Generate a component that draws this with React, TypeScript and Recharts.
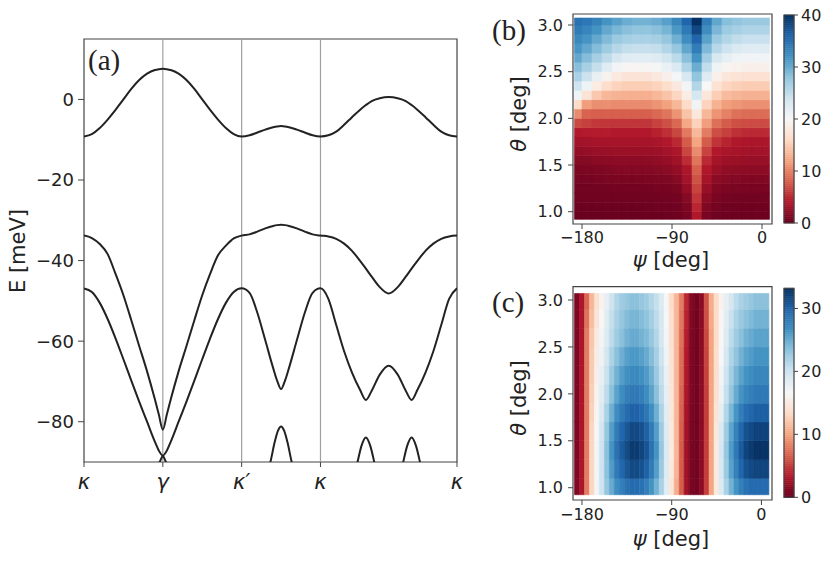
import React from "react";
import {
  ScatterChart,
  Scatter,
  LineChart,
  Line,
  XAxis,
  YAxis,
  ReferenceLine,
  ReferenceArea,
} from "recharts";

const FONT = "'DejaVu Sans', sans-serif";
const SERIF = "'Liberation Serif', 'DejaVu Serif', serif";

// ---- panel (a): bands along kappa-gamma-kappa'-kappa-kappa ----
const K_TICKS = [0, 1, 2, 3, 4.732];
const K_TICK_LABELS = ["κ", "γ", "κ′", "κ", "κ"];
const E_TICKS = [-80, -60, -40, -20, 0];

const K = [
  0, 0.1, 0.2, 0.3, 0.4, 0.5, 0.6, 0.7, 0.8, 0.9, 0.95, 1.0,
  1.05, 1.1, 1.2, 1.3, 1.4, 1.5, 1.6, 1.7, 1.8, 1.9, 2.0,
  2.1, 2.2, 2.3, 2.4, 2.45, 2.5, 2.55, 2.6, 2.7, 2.8, 2.9, 3.0,
  3.1, 3.2, 3.3, 3.4, 3.5, 3.576, 3.65, 3.752, 3.866, 3.98, 4.082, 4.156, 4.232, 4.332, 4.432, 4.532, 4.632, 4.732,
];
const BAND1 = [
  -9.2, -8.6, -7.1, -5.0, -2.6, 0.0, 2.6, 4.8, 6.4, 7.3, 7.5, 7.6,
  7.5, 7.3, 6.4, 4.8, 2.6, 0.0, -2.6, -5.0, -7.1, -8.6, -9.2,
  -8.9, -8.2, -7.5, -6.9, -6.7, -6.6, -6.7, -6.9, -7.5, -8.2, -8.9, -9.2,
  -8.9, -8.0, -6.3, -4.4, -2.6, -1.4, -0.4, 0.3, 0.6, 0.3, -0.4, -1.4, -2.6, -4.4, -6.3, -8.0, -8.9, -9.2,
];
const BAND2 = [
  -33.8, -34.4, -35.9, -38.4, -43.3, -48.6, -54.8, -61.2, -67.5, -74.5, -78.3, -82.0,
  -78.3, -74.5, -67.5, -61.2, -54.8, -48.6, -43.3, -38.7, -36.3, -34.5, -33.8,
  -33.5, -32.8, -32.0, -31.4, -31.2, -31.1, -31.2, -31.4, -32.0, -32.8, -33.5, -33.8,
  -34.0, -34.6, -35.8, -37.6, -40.0, -42.0, -44.0, -46.6, -48.2, -46.6, -44.0, -42.0, -40.0, -37.6, -35.8, -34.6, -34.0, -33.8,
];
const BAND3 = [
  -46.9, -47.8, -50.5, -54.5, -59.3, -64.5, -69.8, -75.0, -80.0, -85.0, -87.2, -88.4,
  -87.2, -85.0, -80.0, -75.0, -69.8, -64.5, -59.3, -54.5, -50.5, -47.8, -46.9,
  -48.0, -53.0, -59.8, -66.7, -69.8, -71.9, -69.8, -66.7, -59.8, -53.0, -48.0, -46.9,
  -49.5, -56.0, -62.5, -67.8, -72.0, -74.6, -72.3, -68.3, -66.1, -68.3, -72.3, -74.6, -72.0, -67.8, -62.5, -56.0, -49.5, -46.9,
];
// lowest band only peeks in above -90 meV; null = below the frame
const K4 = [
  0.93, 0.965, 1.0, 1.035, 1.07, 1.7,
  2.33, 2.365, 2.42, 2.46, 2.5, 2.54, 2.58, 2.635, 2.67, 3.0,
  3.44, 3.47, 3.52, 3.576, 3.632, 3.682, 3.71, 3.866,
  4.022, 4.05, 4.1, 4.156, 4.212, 4.262, 4.29,
];
const BAND4 = [
  -91.2, -89.8, -88.5, -89.8, -91.2, null,
  -92.5, -90.0, -85.0, -82.3, -81.2, -82.3, -85.0, -90.0, -92.5, null,
  -92.5, -90.0, -86.0, -83.9, -86.0, -90.0, -92.5, null,
  -92.5, -90.0, -86.0, -83.9, -86.0, -90.0, -92.5,
];

// ---- panel (b) ----
const PSI_B = [-185, -175, -165, -155, -145, -135, -125, -115, -105, -95, -85, -75, -65, -55, -45, -35, -25, -15, -5, 5];
const THETA_B = [0.95, 1.05, 1.15, 1.25, 1.35, 1.45, 1.55, 1.65, 1.75, 1.85, 1.95, 2.05, 2.15, 2.25, 2.35, 2.45, 2.55, 2.65, 2.75, 2.85, 2.95, 3.05];
// one row per psi column, theta increasing
const VALUES_B = [
  [0.2, 0.3, 0.45, 0.6, 0.8, 1.0, 1.6, 2.3, 3.1, 4.0, 6.7, 10.5, 16.0, 21.0, 24.1, 26.5, 28.5, 30.4, 31.8, 33.0, 34.2, 35.0],
  [0.2, 0.3, 0.45, 0.6, 0.85, 1.1, 1.6, 2.4, 3.2, 4.1, 6.2, 8.2, 11.6, 17.2, 21.0, 24.3, 26.6, 28.6, 30.4, 31.9, 33.3, 34.5],
  [0.2, 0.3, 0.45, 0.65, 0.9, 1.2, 1.8, 2.6, 3.3, 4.2, 5.8, 8.0, 10.7, 14.6, 18.3, 21.6, 24.7, 26.7, 28.7, 30.3, 32.0, 33.5],
  [0.2, 0.3, 0.45, 0.65, 0.95, 1.3, 1.9, 2.6, 3.3, 4.2, 5.7, 8.0, 10.7, 13.4, 16.3, 19.3, 22.5, 25.3, 27.1, 28.8, 30.3, 32.0],
  [0.2, 0.3, 0.45, 0.7, 1.0, 1.5, 2.0, 2.7, 3.3, 4.0, 5.6, 8.0, 10.5, 13.0, 15.5, 18.0, 20.6, 23.5, 25.8, 27.5, 29.2, 31.0],
  [0.2, 0.3, 0.45, 0.7, 1.0, 1.5, 2.0, 2.7, 3.3, 4.0, 5.6, 8.0, 10.5, 12.8, 15.0, 17.3, 19.7, 22.4, 24.8, 26.8, 28.4, 30.0],
  [0.2, 0.3, 0.45, 0.7, 1.0, 1.5, 2.0, 2.7, 3.3, 4.0, 5.6, 8.0, 10.5, 12.8, 15.0, 17.3, 19.7, 22.3, 24.6, 26.5, 28.0, 29.5],
  [0.2, 0.3, 0.45, 0.7, 1.0, 1.5, 2.0, 2.7, 3.3, 4.0, 5.6, 8.0, 10.5, 12.8, 15.0, 17.3, 19.7, 22.3, 24.6, 26.5, 28.0, 29.5],
  [0.2, 0.35, 0.5, 0.75, 1.1, 1.6, 2.2, 2.9, 3.5, 4.5, 6.3, 8.5, 11.0, 13.3, 15.5, 17.9, 20.3, 22.6, 24.9, 26.8, 28.4, 30.0],
  [0.3, 0.4, 0.6, 0.85, 1.2, 1.8, 2.5, 3.2, 3.9, 5.3, 7.1, 9.2, 11.8, 14.2, 16.4, 18.9, 21.4, 23.8, 26.0, 27.7, 29.3, 31.0],
  [0.4, 0.5, 0.7, 1.0, 1.6, 2.3, 3.0, 3.7, 4.9, 6.6, 8.5, 11.0, 13.4, 15.6, 17.9, 20.4, 23.0, 25.4, 27.6, 29.7, 31.5, 33.0],
  [0.8, 1.1, 1.6, 2.4, 3.2, 3.7, 5.1, 6.5, 7.8, 9.5, 12.2, 14.2, 16.2, 18.4, 20.5, 23.4, 26.1, 28.4, 30.5, 32.5, 34.3, 36.0],
  [4.0, 4.8, 5.6, 6.4, 7.2, 8.0, 9.2, 10.5, 12.0, 13.5, 15.3, 17.8, 20.7, 23.6, 26.0, 28.0, 30.0, 32.0, 34.0, 36.0, 38.2, 40.0],
  [0.9, 1.3, 1.9, 2.6, 3.3, 3.9, 5.0, 6.4, 7.8, 9.6, 11.6, 13.4, 15.4, 17.6, 20.0, 22.6, 25.0, 27.0, 29.0, 30.8, 32.5, 34.0],
  [0.5, 0.7, 1.0, 1.4, 2.0, 2.7, 3.3, 4.0, 5.5, 7.0, 8.9, 11.0, 13.0, 15.0, 17.0, 19.0, 21.0, 23.3, 25.6, 27.4, 29.1, 30.5],
  [0.3, 0.5, 0.7, 1.1, 1.6, 2.2, 2.9, 3.5, 4.6, 6.2, 7.8, 9.9, 11.6, 13.6, 15.6, 17.6, 19.6, 21.8, 24.1, 25.9, 27.3, 28.5],
  [0.3, 0.4, 0.6, 1.0, 1.5, 2.1, 2.7, 3.4, 3.9, 5.3, 7.1, 9.0, 11.2, 13.2, 15.2, 17.2, 19.1, 21.0, 23.0, 25.0, 26.6, 28.0],
  [0.3, 0.4, 0.6, 0.9, 1.4, 2.0, 2.6, 3.2, 3.7, 5.0, 6.9, 8.7, 10.8, 12.9, 14.9, 16.9, 18.9, 20.6, 22.5, 24.5, 26.1, 27.5],
  [0.3, 0.4, 0.6, 0.9, 1.4, 2.0, 2.6, 3.2, 3.7, 5.0, 6.9, 8.7, 10.8, 12.9, 14.9, 16.9, 18.9, 20.6, 22.5, 24.5, 26.1, 27.5],
  [0.3, 0.4, 0.6, 0.9, 1.4, 2.0, 2.6, 3.2, 3.7, 5.0, 6.9, 8.7, 10.8, 12.9, 14.9, 16.9, 18.9, 20.6, 22.5, 24.5, 26.1, 27.5],
];

// ---- panel (c) ----
const PSI_C = [
  -185, -180, -175, -170, -165, -160, -155, -150, -145, -140, -135, -130, -125, -120, -115, -110, -105, -100, -95, -90,
  -85, -80, -75, -70, -65, -60, -55, -50, -45, -40, -35, -30, -25, -20, -15, -10, -5, 0, 5,
];
const THETA_C = [1.0, 1.2, 1.4, 1.6, 1.8, 2.0, 2.2, 2.4, 2.6, 2.8, 3.0];
const VALUES_C = [
  [1, 1, 1, 1, 1, 1, 1, 1, 1, 1, 1],
  [3, 3, 3, 3, 3, 3, 3, 3, 3, 3, 3],
  [8, 8, 8, 8, 8, 8, 8, 8, 8, 7.5, 7],
  [13, 13, 13, 13, 12.7, 12.5, 12.3, 12.2, 12, 11.5, 11],
  [17, 17, 17, 16.8, 16.4, 16, 15.7, 15.3, 15, 14.5, 14],
  [20, 20, 20, 19.7, 19.1, 18.5, 18, 17.5, 17, 16.5, 16],
  [23, 23.4, 23.5, 23, 22, 21, 20.3, 19.7, 19, 18.5, 18],
  [25, 26, 26.5, 25.9, 24.7, 23.5, 22.7, 21.8, 21, 20.5, 20],
  [27, 28.4, 29, 28.3, 26.9, 25.5, 24.5, 23.5, 22.5, 22, 21.5],
  [28, 29.8, 30.5, 29.8, 28.4, 27, 25.8, 24.7, 23.5, 23, 22.5],
  [29, 30.8, 31.5, 30.8, 29.4, 28, 26.8, 25.7, 24.5, 23.8, 23],
  [29.5, 31.6, 32.5, 31.7, 30.1, 28.5, 27.3, 26.2, 25, 24.3, 23.5],
  [29.5, 31.6, 32.5, 31.7, 30.1, 28.5, 27.3, 26.2, 25, 24.3, 23.5],
  [29, 31.1, 32, 31.2, 29.6, 28, 26.8, 25.7, 24.5, 23.8, 23],
  [28, 30.1, 31, 30.2, 28.6, 27, 26, 25, 24, 23.3, 22.5],
  [26.5, 28.3, 29, 28.3, 26.9, 25.5, 24.7, 23.8, 23, 22.3, 21.5],
  [24.5, 25.9, 26.5, 25.9, 24.7, 23.5, 22.8, 22.2, 21.5, 21, 20.5],
  [22, 22.7, 23, 22.6, 21.8, 21, 20.5, 20, 19.5, 19.3, 19],
  [18.5, 18.9, 19, 18.8, 18.4, 18, 17.7, 17.3, 17, 16.8, 16.5],
  [14.5, 14.9, 15, 14.9, 14.7, 14.5, 14.3, 14.2, 14, 13.8, 13.5],
  [10.5, 10.9, 11, 11, 11, 11, 11, 11, 11, 11, 11],
  [6.5, 6.5, 6.5, 6.6, 6.8, 7, 7.2, 7.3, 7.5, 7.8, 8],
  [2.5, 2.5, 2.5, 2.6, 2.8, 3, 3.2, 3.3, 3.5, 3.8, 4],
  [0.8, 0.8, 0.8, 0.8, 0.9, 1, 1, 1, 1, 1.1, 1.2],
  [0.5, 0.5, 0.5, 0.5, 0.5, 0.5, 0.5, 0.5, 0.5, 0.5, 0.5],
  [1.5, 1.5, 1.5, 1.5, 1.5, 1.5, 1.5, 1.5, 1.5, 1.5, 1.5],
  [5, 5, 5, 5, 5, 5, 5.2, 5.3, 5.5, 5.8, 6],
  [10, 10, 10, 10, 10, 10, 10, 10, 10, 10.3, 10.5],
  [15, 15, 15, 14.8, 14.4, 14, 13.8, 13.7, 13.5, 13.5, 13.5],
  [19, 19.4, 19.5, 19.1, 18.3, 17.5, 17.2, 16.8, 16.5, 16.3, 16],
  [22, 22.7, 23, 22.5, 21.5, 20.5, 20, 19.5, 19, 18.5, 18],
  [24.5, 25.6, 26, 25.4, 24.2, 23, 22.3, 21.7, 21, 20.3, 19.5],
  [26.5, 27.9, 28.5, 27.8, 26.4, 25, 24.2, 23.3, 22.5, 21.8, 21],
  [28, 29.8, 30.5, 29.7, 28.1, 26.5, 25.5, 24.5, 23.5, 22.8, 22],
  [29, 31.1, 32, 31.1, 29.3, 27.5, 26.5, 25.5, 24.5, 23.5, 22.5],
  [29.5, 31.6, 32.5, 31.6, 29.8, 28, 27, 26, 25, 24, 23],
  [29.5, 31.9, 33, 32.1, 30.3, 28.5, 27.5, 26.5, 25.5, 24.5, 23.5],
  [29.5, 31.9, 33, 32.1, 30.3, 28.5, 27.5, 26.5, 25.5, 24.5, 23.5],
  [29.5, 31.9, 33, 32.1, 30.3, 28.5, 27.5, 26.5, 25.5, 24.5, 23.5],
];

const PSI_TICKS = [-180, -90, 0];
const THETA_TICKS = [1.0, 1.5, 2.0, 2.5, 3.0];
const CBAR_B_TICKS = [0, 10, 20, 30, 40];
const CBAR_C_TICKS = [0, 10, 20, 30];
const VMAX_B = 40;
const VMAX_C = 33.2;

// matplotlib RdBu
const RDBU = ["#67001f", "#b2182b", "#d6604d", "#f4a582", "#fddbc7", "#f7f7f7", "#d1e5f0", "#92c5de", "#4393c3", "#2166ac", "#053061"];

function hexToRgb(h: string) {
  return [1, 3, 5].map((i) => parseInt(h.slice(i, i + 2), 16));
}

function rdbu(t: number) {
  const x = Math.max(0, Math.min(1, t)) * (RDBU.length - 1);
  const i = Math.min(Math.floor(x), RDBU.length - 2);
  const f = x - i;
  const a = hexToRgb(RDBU[i]);
  const b = hexToRgb(RDBU[i + 1]);
  const c = a.map((v, j) => Math.round(v + (b[j] - v) * f));
  return `rgb(${c[0]},${c[1]},${c[2]})`;
}

const minus = (v: number) => (v < 0 ? `\u2212${Math.abs(v)}` : `${v}`);

const band1Data = K.map((k, i) => ({ k, e: BAND1[i] }));
const band2Data = K.map((k, i) => ({ k, e: BAND2[i] }));
const band3Data = K.map((k, i) => ({ k, e: BAND3[i] }));
const band4Data = K4.map((k, i) => ({ k, e: BAND4[i] }));

const tickStyle = { fontSize: 16, fill: "#222", fontFamily: FONT };
const noShape = () => <g />;

function BandPanel() {
  return (
    <LineChart width={470} height={500} margin={{ top: 39, right: 13, bottom: 0, left: 0 }}>
      <XAxis
        type="number"
        dataKey="k"
        domain={[0, 4.732]}
        ticks={K_TICKS}
        interval={0}
        allowDataOverflow
        tickFormatter={(v, i) => K_TICK_LABELS[i]}
        height={38}
        tickSize={5}
        tickMargin={7}
        axisLine={false}
        tickLine={{ stroke: "#444" }}
        tick={{ fontSize: 21, fontStyle: "italic", fill: "#222", fontFamily: FONT }}
      />
      <YAxis
        type="number"
        domain={[-90, 15]}
        ticks={E_TICKS}
        interval={0}
        allowDataOverflow
        width={84}
        tickSize={6}
        tickMargin={4}
        axisLine={false}
        tickLine={{ stroke: "#444" }}
        tickFormatter={minus}
        tick={{ fontSize: 18, fill: "#222", fontFamily: FONT }}
      />
      {K_TICKS.slice(1, 4).map((k) => (
        <ReferenceLine key={k} x={k} stroke="#a0a0a0" strokeWidth={1.2} />
      ))}
      {[band1Data, band2Data, band3Data, band4Data].map((d, i) => (
        <Line
          key={i}
          data={d}
          dataKey="e"
          type="monotone"
          stroke="#222"
          strokeWidth={2}
          dot={false}
          connectNulls={false}
          isAnimationActive={false}
        />
      ))}
      <ReferenceArea x1={0} x2={4.732} y1={-90} y2={15} fill="none" stroke="#444" strokeWidth={1.2} ifOverflow="visible" />
    </LineChart>
  );
}

function HeatPanel({ height, marginTop, psi, theta, values, vmax, psiExtent, thetaExtent, xDomain, yDomain, tickMargin }) {
  const dp = psi[1] - psi[0];
  const dt = theta[1] - theta[0];
  const centers = [];
  const cells = [];
  psi.forEach((p, i) =>
    theta.forEach((t, j) => {
      const c = rdbu(values[i][j] / vmax);
      centers.push({ psi: p, theta: t, v: values[i][j] });
      cells.push(
        <ReferenceArea
          key={`${i}-${j}`}
          x1={Math.max(p - dp / 2, psiExtent[0])}
          x2={Math.min(p + dp / 2, psiExtent[1])}
          y1={Math.max(t - dt / 2, thetaExtent[0])}
          y2={Math.min(t + dt / 2, thetaExtent[1])}
          fill={c}
          fillOpacity={1}
          stroke={c}
          strokeWidth={0.6}
          ifOverflow="visible"
        />
      );
    })
  );
  return (
    <ScatterChart width={275} height={height} margin={{ top: marginTop, right: 3, bottom: 0, left: 0 }}>
      <XAxis
        type="number"
        dataKey="psi"
        domain={xDomain}
        ticks={PSI_TICKS}
        interval={0}
        allowDataOverflow
        tickFormatter={minus}
        height={50}
        tickSize={5}
        tickMargin={tickMargin}
        axisLine={false}
        tickLine={{ stroke: "#444" }}
        tick={tickStyle}
      />
      <YAxis
        type="number"
        dataKey="theta"
        domain={yDomain}
        ticks={THETA_TICKS}
        interval={0}
        allowDataOverflow
        tickFormatter={(v) => v.toFixed(1)}
        width={73}
        tickSize={5}
        tickMargin={5}
        axisLine={false}
        tickLine={{ stroke: "#444" }}
        tick={tickStyle}
      />
      <Scatter data={centers} shape={noShape} isAnimationActive={false} />
      {cells}
      <ReferenceArea x1={xDomain[0]} x2={xDomain[1]} y1={yDomain[0]} y2={yDomain[1]} fill="none" stroke="#444" strokeWidth={1.2} ifOverflow="visible" />
    </ScatterChart>
  );
}

function ColorBar({ height, marginTop, marginBottom, vmax, ticks }) {
  const n = 100;
  const slices = [];
  const centers = [];
  for (let i = 0; i < n; i++) {
    const y1 = (vmax * i) / n;
    const y2 = (vmax * (i + 1)) / n;
    const c = rdbu((i + 0.5) / n);
    centers.push({ x: 0.5, y: (y1 + y2) / 2 });
    slices.push(<ReferenceArea key={i} x1={0} x2={1} y1={y1} y2={y2} fill={c} fillOpacity={1} stroke={c} strokeWidth={0.6} ifOverflow="visible" />);
  }
  return (
    <ScatterChart width={60} height={height} margin={{ top: marginTop, right: 0, bottom: marginBottom, left: 14 }}>
      <XAxis type="number" dataKey="x" domain={[0, 1]} hide allowDataOverflow />
      <YAxis
        type="number"
        dataKey="y"
        orientation="right"
        domain={[0, vmax]}
        ticks={ticks}
        interval={0}
        allowDataOverflow
        width={36}
        tickSize={4}
        tickMargin={3}
        axisLine={false}
        tickLine={{ stroke: "#444" }}
        tick={tickStyle}
      />
      <Scatter data={centers} shape={noShape} isAnimationActive={false} />
      {slices}
      <ReferenceArea x1={0} x2={1} y1={0} y2={vmax} fill="none" stroke="#444" strokeWidth={1.2} ifOverflow="visible" />
    </ScatterChart>
  );
}

const abs = (left: number, top: number): React.CSSProperties => ({ position: "absolute", left, top });

const titleStyle = (x: number, y: number, rotate: boolean): React.CSSProperties => ({
  position: "absolute",
  left: x,
  top: y,
  transform: `translate(-50%, -50%)${rotate ? " rotate(-90deg)" : ""}`,
  whiteSpace: "nowrap",
  fontFamily: FONT,
  fontSize: 21,
  lineHeight: 1,
  color: "#222",
});

const panelLabel = (left: number, top: number): React.CSSProperties => ({
  position: "absolute",
  left,
  top,
  fontFamily: SERIF,
  fontSize: 29,
  lineHeight: 1,
  color: "#222",
});

export default function App() {
  return (
    <div style={{ position: "absolute", left: 0, top: 0, width: 830, height: 562, background: "#fff", overflow: "hidden" }}>
      <div style={abs(0, 0)}>
        <BandPanel />
      </div>
      <div style={abs(500, 0)}>
        <HeatPanel
          height={274}
          marginTop={14}
          psi={PSI_B}
          theta={THETA_B}
          values={VALUES_B}
          vmax={VMAX_B}
          psiExtent={[-187.5, 7.5]}
          thetaExtent={[0.918, 3.075]}
          xDomain={[-189, 10]}
          yDomain={[0.868, 3.118]}
          tickMargin={3}
        />
      </div>
      <div style={abs(770, 0)}>
        <ColorBar height={240} marginTop={15} marginBottom={17} vmax={VMAX_B} ticks={CBAR_B_TICKS} />
      </div>
      <div style={abs(500, 280)}>
        <HeatPanel
          height={270}
          marginTop={6.7}
          psi={PSI_C}
          theta={THETA_C}
          values={VALUES_C}
          vmax={VMAX_C}
          psiExtent={[-187.5, 7.5]}
          thetaExtent={[0.925, 3.07]}
          xDomain={[-189, 10.6]}
          yDomain={[0.869, 3.142]}
          tickMargin={4}
        />
      </div>
      <div style={abs(770, 280)}>
        <ColorBar height={234} marginTop={8.3} marginBottom={16.7} vmax={VMAX_C} ticks={CBAR_C_TICKS} />
      </div>

      <div style={titleStyle(18, 251, true)}>E [meV]</div>
      <div style={titleStyle(519, 114, true)}>
        <i>θ</i> [deg]
      </div>
      <div style={titleStyle(671, 260, false)}>
        <i>ψ</i> [deg]
      </div>
      <div style={titleStyle(519, 398, true)}>
        <i>θ</i> [deg]
      </div>
      <div style={titleStyle(671, 539, false)}>
        <i>ψ</i> [deg]
      </div>

      <div style={panelLabel(88, 46)}>(a)</div>
      <div style={panelLabel(492, 16)}>(b)</div>
      <div style={panelLabel(492, 288)}>(c)</div>
    </div>
  );
}
